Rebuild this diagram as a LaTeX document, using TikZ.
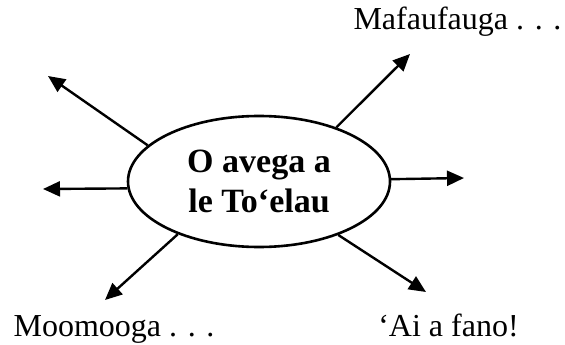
\documentclass[tikz,border=0pt]{standalone}
\usepackage{fontspec}
\setmainfont{Liberation Serif}
\usetikzlibrary{arrows.meta,shapes.geometric}
\tikzset{
  hub/.style={draw, ellipse, line width=2.6pt, minimum width=262pt, minimum height=131pt, inner sep=0pt, align=center, font=\fontsize{34}{40}\selectfont\bfseries},
  spoke/.style={line width=2.4pt, -{Triangle[length=17pt,width=15pt]}},
  lbl/.style={anchor=base, inner sep=0pt, font=\fontsize{32}{36}\selectfont}
}
\begin{document}
\begin{tikzpicture}[x=1pt,y=-1pt]
\useasboundingbox (0,0) rectangle (565,345);
\node[hub] (c) at (259,181.5) {O avega a\\le To‘elau};
\coordinate (e1) at (48,76);
\coordinate (e2) at (43,189);
\coordinate (e3) at (105,300);
\coordinate (e4) at (410,54);
\coordinate (e5) at (464,178);
\coordinate (e6) at (426,292);
\draw[spoke] (c.162) -- (e1);
\draw[spoke] (c.183) -- (e2);
\draw[spoke] (c.213) -- (e3);
\draw[spoke] (c.35) -- (e4);
\draw[spoke] (c.1.5) -- (e5);
\draw[spoke] (c.326.6) -- (e6);
\node[lbl] (t1) at (457.5,30) {Mafaufauga . . .};
\node[lbl] (t2) at (114,336) {Moomooga . . .};
\node[lbl] (t3) at (448.5,336) {‘Ai a fano!};
\end{tikzpicture}
\end{document}
